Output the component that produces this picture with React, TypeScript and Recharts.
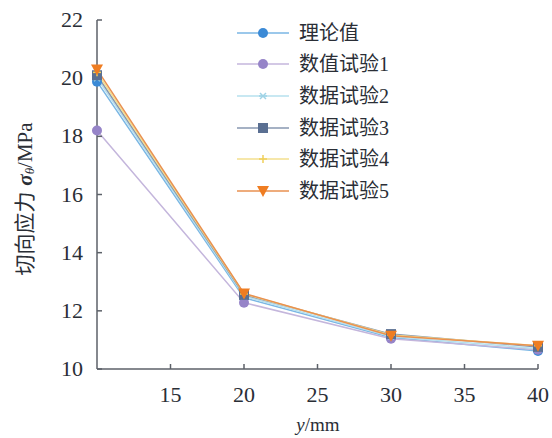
import { LineChart, Line, XAxis, YAxis } from "recharts";

const yPositions = [10, 20, 30, 40];
const theory = [19.88, 12.45, 11.08, 10.62];
const numTrial1 = [18.2, 12.28, 11.04, 10.66];
const dataTrial2 = [20.0, 12.5, 11.12, 10.7];
const dataTrial3 = [20.1, 12.55, 11.2, 10.76];
const dataTrial4 = [20.2, 12.58, 11.17, 10.8];
const dataTrial5 = [20.3, 12.6, 11.14, 10.8];
const xTicks = [15, 20, 25, 30, 35, 40];
const yTicks = [10, 12, 14, 16, 18, 20, 22];

type Series = {
  key: string;
  name: string;
  values: number[];
  line: string;
  fill: string;
  shape: "circle" | "star" | "square" | "plus" | "triangle";
};

const series: Series[] = [
  { key: "theory", name: "理论值", values: theory, line: "#7ab6e4", fill: "#3b8ad6", shape: "circle" },
  { key: "num1", name: "数值试验1", values: numTrial1, line: "#c4b6dc", fill: "#9684c8", shape: "circle" },
  { key: "d2", name: "数据试验2", values: dataTrial2, line: "#b6e0ee", fill: "#9fd3e6", shape: "star" },
  { key: "d3", name: "数据试验3", values: dataTrial3, line: "#8797b0", fill: "#5a6f92", shape: "square" },
  { key: "d4", name: "数据试验4", values: dataTrial4, line: "#f3df8e", fill: "#efcf5a", shape: "plus" },
  { key: "d5", name: "数据试验5", values: dataTrial5, line: "#e99050", fill: "#ef7d22", shape: "triangle" },
];

const chartData = yPositions.map((y, i) => {
  const row: Record<string, number> = { y };
  for (const s of series) row[s.key] = s.values[i];
  return row;
});

const FONT = "'Liberation Serif', 'Times New Roman', 'Noto Sans CJK SC', serif";
const AXIS = "#5c6168";
const TEXT = "#2a2e36";

function Marker({ cx, cy, s }: { cx: number; cy: number; s: Series }) {
  if (cx == null || cy == null) return null;
  switch (s.shape) {
    case "circle":
      return <circle cx={cx} cy={cy} r={5} fill={s.fill} />;
    case "square":
      return <rect x={cx - 5} y={cy - 5} width={10} height={10} fill={s.fill} />;
    case "triangle":
      return (
        <path d={`M${cx - 6},${cy - 5} L${cx + 6},${cy - 5} L${cx},${cy + 6} Z`} fill={s.fill} />
      );
    case "plus":
      return (
        <g stroke={s.fill} strokeWidth={1.5}>
          <line x1={cx - 4} y1={cy} x2={cx + 4} y2={cy} />
          <line x1={cx} y1={cy - 4} x2={cx} y2={cy + 4} />
        </g>
      );
    default:
      return (
        <g stroke={s.fill} strokeWidth={1.5}>
          <line x1={cx - 4} y1={cy} x2={cx + 4} y2={cy} />
          <line x1={cx - 3} y1={cy - 3} x2={cx + 3} y2={cy + 3} />
          <line x1={cx - 3} y1={cy + 3} x2={cx + 3} y2={cy - 3} />
        </g>
      );
  }
}

function LegendBox() {
  return (
    <div
      style={{
        position: "absolute",
        left: 237,
        top: 17,
        fontFamily: FONT,
        fontSize: 20,
        color: TEXT,
      }}
    >
      {series.map((s) => (
        <div key={s.key} style={{ display: "flex", alignItems: "center", height: 31.6 }}>
          <svg width={62} height={16}>
            <line x1={0} y1={8} x2={52} y2={8} stroke={s.line} strokeWidth={1.5} />
            <Marker cx={26} cy={8} s={s} />
          </svg>
          <span style={{ lineHeight: "20px" }}>{s.name}</span>
        </div>
      ))}
    </div>
  );
}

function XTick(props: any) {
  const { x, y, payload } = props;
  return (
    <text x={x} y={y + 18} textAnchor="middle" fontFamily={FONT} fontSize={22} fill={TEXT}>
      {payload.value}
    </text>
  );
}

function YTick(props: any) {
  const { x, y, payload } = props;
  return (
    <text x={x} y={y + 7} textAnchor="end" fontFamily={FONT} fontSize={22} fill={TEXT}>
      {payload.value}
    </text>
  );
}

function YLabel(props: any) {
  const vb = props.viewBox;
  const cx = vb.x - 5;
  const cy = 199;
  return (
    <text
      x={cx}
      y={cy}
      transform={`rotate(-90, ${cx}, ${cy})`}
      textAnchor="middle"
      dominantBaseline="central"
      fontFamily={FONT}
      fontSize={21}
      fill={TEXT}
    >
      切向应力
      <tspan dx={6} fontStyle="italic" fontWeight="bold">σ</tspan>
      <tspan fontStyle="italic" fontSize={13} dy={4}>θ</tspan>
      <tspan dy={-4}>/MPa</tspan>
    </text>
  );
}

function XTitle() {
  return (
    <div
      style={{
        position: "absolute",
        left: 268,
        width: 100,
        top: 414,
        textAlign: "center",
        fontFamily: FONT,
        fontSize: 19,
        lineHeight: "22px",
        color: TEXT,
      }}
    >
      <i>y</i>/mm
    </div>
  );
}

export default function App() {
  return (
    <div style={{ position: "absolute", left: 0, top: 0, width: 552, height: 438, background: "#fff" }}>
      <LineChart
        width={552}
        height={438}
        data={chartData}
        margin={{ top: 20, right: 14, bottom: 29, left: 30 }}
      >
        <XAxis
          dataKey="y"
          type="number"
          domain={[10, 40]}
          ticks={xTicks}
          height={40}
          stroke={AXIS}
          strokeWidth={1.5}
          tickSize={-5}
          tickMargin={20}
          tick={<XTick />}
        />
        <YAxis
          type="number"
          domain={[10, 22]}
          ticks={yTicks}
          width={67}
          stroke={AXIS}
          strokeWidth={1.5}
          tickSize={-5}
          tickMargin={19}
          tick={<YTick />}
          label={<YLabel />}
        />
        {series.map((s) => (
          <Line
            key={s.key}
            type="linear"
            dataKey={s.key}
            name={s.name}
            stroke={s.line}
            strokeWidth={1.5}
            dot={(p: any) => <Marker key={`${s.key}-${p.index}`} cx={p.cx} cy={p.cy} s={s} />}
            isAnimationActive={false}
          />
        ))}
      </LineChart>
      <LegendBox />
      <XTitle />
    </div>
  );
}
